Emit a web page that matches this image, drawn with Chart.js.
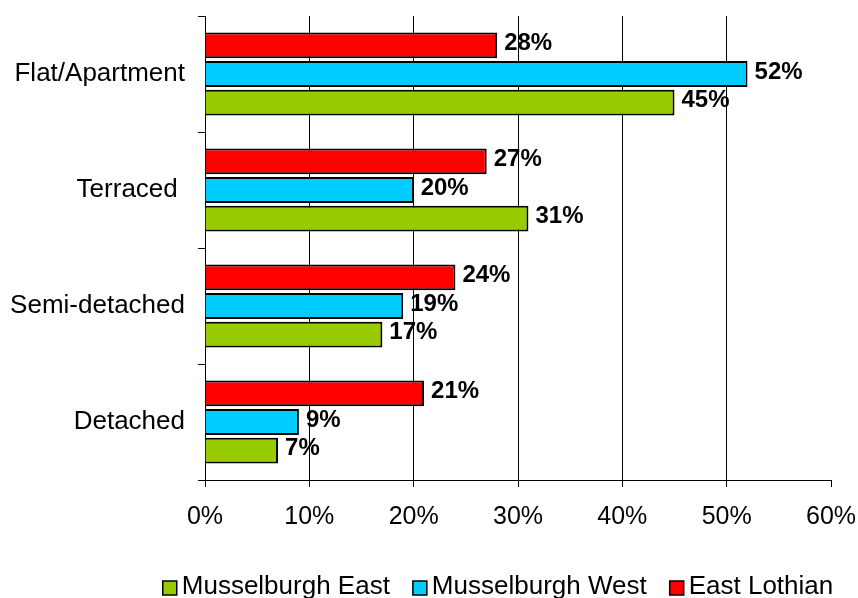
<!DOCTYPE html>
<html>
<head>
<meta charset="utf-8">
<script src="https://cdn.jsdelivr.net/npm/chart.js@4"></script>
<style>
  html, body { margin: 0; padding: 0; background: #fff; }
  canvas { display: block; }
</style>
</head>
<body>
<canvas id="housingChart" width="858" height="598"></canvas>
<script>
const categories = ['Flat/Apartment', 'Terraced ', 'Semi-detached', 'Detached'];
const eastLothian = [28, 27, 24, 21];
const musselburghWest = [52, 20, 19, 9];
const musselburghEast = [45, 31, 17, 7];
const xTicks = [0, 10, 20, 30, 40, 50, 60];

const FONT = '"Liberation Sans", Arial, sans-serif';

// value labels at the end of each bar
const barLabels = {
    id: 'barLabels',
    afterDatasetsDraw(chart) {
        const ctx = chart.ctx;
        ctx.save();
        ctx.font = 'bold 24px ' + FONT;
        ctx.fillStyle = '#000';
        ctx.textAlign = 'left';
        ctx.textBaseline = 'middle';
        chart.data.datasets.forEach((ds, i) => {
            chart.getDatasetMeta(i).data.forEach((bar, j) => {
                ctx.fillText(ds.data[j] + '%', bar.x + 7, bar.y - 2);
            });
        });
        ctx.restore();
    }
};

// legend along the bottom, in reverse dataset order
const bottomLegend = {
    id: 'bottomLegend',
    afterDraw(chart) {
        const ctx = chart.ctx;
        const items = chart.data.datasets.slice().reverse();
        const box = 14, gap = 5, spacing = 23, centreX = 498, midY = 587;
        ctx.save();
        ctx.font = '26px ' + FONT;
        ctx.textBaseline = 'middle';
        ctx.textAlign = 'left';
        const widths = items.map(ds => ctx.measureText(ds.label).width);
        let total = 0;
        widths.forEach(w => total += box + gap + w);
        total += spacing * (items.length - 1);
        let x = centreX - total / 2;
        items.forEach((ds, i) => {
            ctx.fillStyle = ds.backgroundColor;
            ctx.fillRect(x, midY - box / 2 + 1, box, box);
            ctx.strokeStyle = '#000';
            ctx.lineWidth = 1.5;
            ctx.strokeRect(x, midY - box / 2 + 1, box, box);
            ctx.fillStyle = '#000';
            ctx.fillText(ds.label, x + box + gap, midY);
            x += box + gap + widths[i] + spacing;
        });
        ctx.restore();
    }
};

function noScalePadding(scale) {
    scale.paddingTop = 0;
    scale.paddingBottom = 0;
    scale.paddingLeft = 0;
    scale.paddingRight = 0;
}

new Chart(document.getElementById('housingChart'), {
    type: 'bar',
    data: {
        labels: categories,
        datasets: [
            { label: 'East Lothian', data: eastLothian, backgroundColor: '#FF0000' },
            { label: 'Musselburgh West', data: musselburghWest, backgroundColor: '#00CCFF' },
            { label: 'Musselburgh East', data: musselburghEast, backgroundColor: '#99CC00' }
        ]
    },
    options: {
        indexAxis: 'y',
        responsive: false,
        animation: false,
        devicePixelRatio: 1,
        layout: { padding: { top: 16, right: 27, left: 0, bottom: 0 } },
        datasets: {
            bar: {
                categoryPercentage: 0.74,
                barPercentage: 0.9,
                borderColor: '#000',
                borderWidth: 2
            }
        },
        plugins: {
            legend: { display: false },
            tooltip: { enabled: false }
        },
        scales: {
            x: {
                min: 0,
                max: 60,
                afterBuildTicks: scale => { scale.ticks = xTicks.map(v => ({ value: v })); },
                afterFit: scale => { scale.height = 118; noScalePadding(scale); },
                border: { color: '#000', width: 1 },
                grid: {
                    color: c => (c.tick && c.tick.value === 60) ? 'rgba(0,0,0,0)' : '#000',
                    tickColor: '#000',
                    tickLength: 7,
                    lineWidth: 1
                },
                ticks: {
                    padding: 15,
                    color: '#000',
                    font: { family: FONT, size: 25 },
                    callback: v => v + '%'
                }
            },
            y: {
                afterFit: scale => { scale.width = 205; noScalePadding(scale); },
                border: { color: '#000', width: 1 },
                grid: {
                    drawOnChartArea: false,
                    tickColor: '#000',
                    tickLength: 7
                },
                ticks: {
                    padding: 13,
                    color: '#000',
                    font: { family: FONT, size: 26 }
                }
            }
        }
    },
    plugins: [barLabels, bottomLegend]
});
</script>
</body>
</html>
